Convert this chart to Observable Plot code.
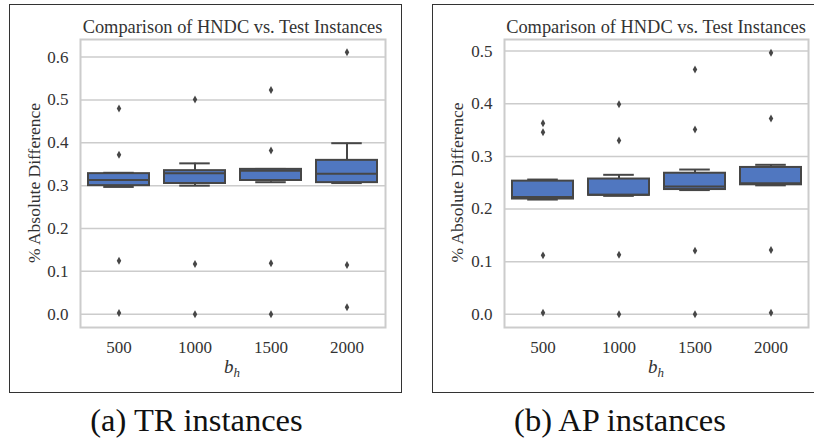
<!DOCTYPE html>
<html>
<head>
<meta charset="utf-8">
<script src="https://cdn.jsdelivr.net/npm/d3@7"></script>
<script src="https://cdn.jsdelivr.net/npm/@observablehq/plot@0.6"></script>
<style>
  html, body { margin: 0; padding: 0; background: #fff; width: 814px; height: 442px; overflow: hidden; position: relative; font-family: "Liberation Serif", serif; }
  .panelframe { position: absolute; border: 1.5px solid #333; box-sizing: border-box; }
  .chart { position: absolute; top: 0; }
  #overlay { position: absolute; left: 0; top: 0; pointer-events: none; }
</style>
</head>
<body>
<div class="panelframe" style="left:9px;top:4px;width:393px;height:389px"></div>
<div class="panelframe" style="left:432px;top:4px;width:400px;height:389px"></div>
<div id="chartA" class="chart" style="left:0px"></div>
<div id="chartB" class="chart" style="left:410px"></div>
<script>
// ---------- data ----------
const bh = ["500", "1000", "1500", "2000"];
const titleText = "Comparison of HNDC vs. Test Instances";
const yLabel = "% Absolute Difference";
const captions = ["(a) TR instances", "(b) AP instances"];

// (a) TR instances : box summary
const trLow    = [0.297, 0.300, 0.308, 0.306];
const trQ1     = [0.300, 0.305, 0.312, 0.307];
const trMedian = [0.313, 0.329, 0.335, 0.328];
const trQ3     = [0.328, 0.335, 0.338, 0.359];
const trHigh   = [0.330, 0.352, 0.339, 0.399];
const trOutliers = [
  [0.480, 0.372, 0.125, 0.003],
  [0.501, 0.117, 0.000],
  [0.523, 0.382, 0.119, 0.000],
  [0.611, 0.115, 0.016]
];
const trTicks = [0.0, 0.1, 0.2, 0.3, 0.4, 0.5, 0.6];

// (b) AP instances : box summary
const apLow    = [0.218, 0.225, 0.236, 0.245];
const apQ1     = [0.219, 0.226, 0.237, 0.246];
const apMedian = [0.223, 0.227, 0.243, 0.249];
const apQ3     = [0.253, 0.257, 0.268, 0.279];
const apHigh   = [0.256, 0.265, 0.275, 0.284];
const apOutliers = [
  [0.363, 0.346, 0.112, 0.003],
  [0.399, 0.330, 0.113, 0.000],
  [0.465, 0.351, 0.121, 0.000],
  [0.497, 0.372, 0.122, 0.003]
];
const apTicks = [0.0, 0.1, 0.2, 0.3, 0.4, 0.5];

// ---------- drawing ----------
const lineColor = "#464646";
const boxFill = "#5077c0";
const gridColor = "#cccccc";
const textColor = "#333333";
const fontFamily = '"Liberation Serif", serif';

const thinDiamond = {
  draw(context, size) {
    const s = Math.sqrt(size);
    const h = s * 0.5, w = s * 0.28;
    context.moveTo(0, -h);
    context.lineTo(w, 0);
    context.lineTo(0, h);
    context.lineTo(-w, 0);
    context.closePath();
  }
};

function panel({width, marginLeft, marginRight, yDomain, ticks, low, q1, med, q3, high, outliers}) {
  const boxes = bh.map((b, i) => ({b, low: low[i], q1: q1[i], med: med[i], q3: q3[i], high: high[i]}));
  const outs = bh.flatMap((b, i) => outliers[i].map(v => ({b, v})));
  const step = (width - marginLeft - marginRight) / bh.length;
  const capInset = step * 0.8 / 4;
  return Plot.plot({
    width, height: 395,
    marginLeft, marginRight, marginTop: 39, marginBottom: 68,
    style: {fontFamily, fontSize: "17px", color: textColor, background: "transparent", overflow: "visible"},
    x: {type: "band", domain: bh, paddingInner: 0.2, paddingOuter: 0.1, axis: null},
    y: {domain: yDomain, axis: null},
    marks: [
      Plot.gridY(ticks, {stroke: gridColor, strokeOpacity: 1, strokeWidth: 1.5}),
      Plot.frame({stroke: gridColor, strokeWidth: 2}),
      Plot.axisY(ticks, {tickSize: 0, tickPadding: 12, tickFormat: d3.format(".1f"), label: null, fontSize: 17}),
      Plot.axisX(bh, {tickSize: 0, tickPadding: 13, label: null, fontSize: 17}),
      Plot.ruleX(boxes, {x: "b", y1: "q3", y2: "high", stroke: lineColor, strokeWidth: 2}),
      Plot.ruleX(boxes, {x: "b", y1: "low", y2: "q1", stroke: lineColor, strokeWidth: 2}),
      Plot.tickY(boxes, {x: "b", y: "high", insetLeft: capInset, insetRight: capInset, stroke: lineColor, strokeWidth: 2}),
      Plot.tickY(boxes, {x: "b", y: "low", insetLeft: capInset, insetRight: capInset, stroke: lineColor, strokeWidth: 2}),
      Plot.barY(boxes, {x: "b", y1: "q1", y2: "q3", fill: boxFill, stroke: lineColor, strokeWidth: 2}),
      Plot.tickY(boxes, {x: "b", y: "med", stroke: lineColor, strokeWidth: 2}),
      Plot.dot(outs, {x: "b", y: "v", symbol: thinDiamond, r: 4.5, fill: lineColor, stroke: "none"})
    ]
  });
}

document.getElementById("chartA").append(panel({
  width: 405, marginLeft: 80, marginRight: 20,
  yDomain: [-0.031, 0.641], ticks: trTicks,
  low: trLow, q1: trQ1, med: trMedian, q3: trQ3, high: trHigh, outliers: trOutliers
}));
document.getElementById("chartB").append(panel({
  width: 404, marginLeft: 94, marginRight: 6,
  yDomain: [-0.025, 0.522], ticks: apTicks,
  low: apLow, q1: apQ1, med: apMedian, q3: apQ3, high: apHigh, outliers: apOutliers
}));

// ---------- titles, axis labels, captions ----------
const svg = d3.select("body").append("svg")
  .attr("id", "overlay").attr("width", 814).attr("height", 442)
  .style("font-family", fontFamily);

const panels = [
  {titleX: 232.5, yLabX: 40, yLabY: 183, xLabX: 232, capX: 196.5},
  {titleX: 656, yLabX: 462.5, yLabY: 182.5, xLabX: 656, capX: 620}
];
panels.forEach((p, i) => {
  svg.append("text").attr("x", p.titleX).attr("y", 33)
    .attr("text-anchor", "middle").attr("font-size", 18.4).attr("fill", textColor)
    .text(titleText);
  svg.append("text").attr("transform", `translate(${p.yLabX},${p.yLabY}) rotate(-90)`)
    .attr("text-anchor", "middle").attr("font-size", 17.5).attr("fill", textColor)
    .text(yLabel);
  const xl = svg.append("text").attr("x", p.xLabX).attr("y", 373)
    .attr("text-anchor", "middle").attr("fill", textColor).attr("font-style", "italic");
  xl.append("tspan").attr("font-size", 19).text("b");
  xl.append("tspan").attr("font-size", 13).attr("dy", 4).text("h");
  svg.append("text").attr("x", p.capX).attr("y", 431)
    .attr("text-anchor", "middle").attr("font-size", 32.5).attr("fill", "#111")
    .text(captions[i]);
});
</script>
</body>
</html>
